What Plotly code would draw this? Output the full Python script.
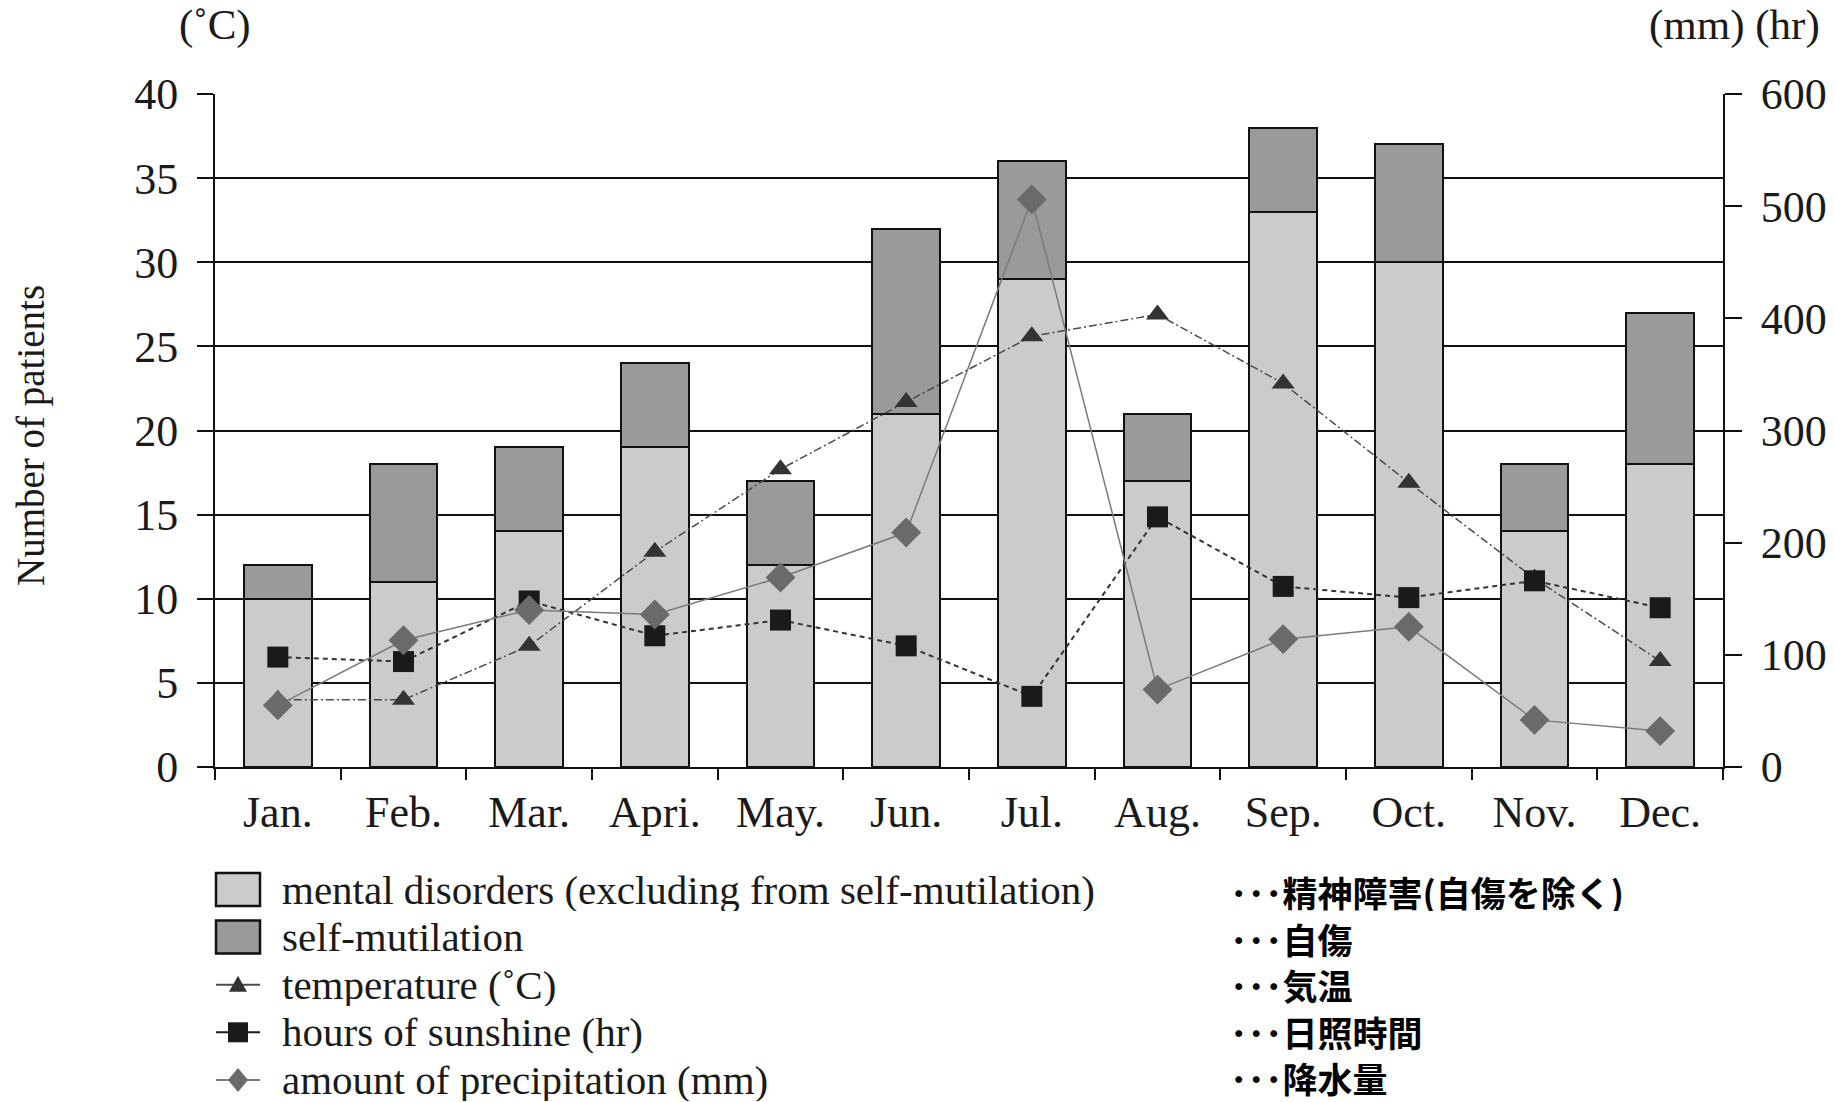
import plotly.graph_objects as go

# Monthly data
months = ["Jan.", "Feb.", "Mar.", "Apri.", "May.", "Jun.", "Jul.", "Aug.", "Sep.", "Oct.", "Nov.", "Dec."]
mental_disorders = [10, 11, 14, 19, 12, 21, 29, 17, 33, 30, 14, 18]
self_mutilation = [2, 7, 5, 5, 5, 11, 7, 4, 5, 7, 4, 9]
temperature_c = [4.0, 4.0, 7.2, 12.8, 17.7, 21.7, 25.6, 26.9, 22.8, 16.9, 11.2, 6.3]
sunshine_hr = [98, 94, 148, 117, 131, 108, 63, 223, 161, 151, 166, 142]
precipitation_mm = [55, 113, 140, 136, 169, 209, 506, 69, 114, 125, 42, 32]

legend_en = [
    "mental disorders (excluding from self-mutilation)",
    "self-mutilation",
    "temperature (˚C)",
    "hours of sunshine (hr)",
    "amount of precipitation (mm)",
]
legend_ja = [
    "･･･精神障害(自傷を除く)",
    "･･･自傷",
    "･･･気温",
    "･･･日照時間",
    "･･･降水量",
]

W, H = 1835, 1102
LEFT, RIGHT, TOP, BOTTOM = 215, 1723, 94, 767

SERIF = "Liberation Serif, Times New Roman, serif"
CJK = "Noto Sans CJK JP, sans-serif"
INK = "#111111"
TEXT = "#1a1a1a"
LIGHT = "#cbcbcb"
DARK = "#9a9a9a"


def fx(x):
    return (x - LEFT) / (RIGHT - LEFT)


def fy(y):
    return (BOTTOM - y) / (BOTTOM - TOP)


fig = go.Figure()

fig.add_bar(
    x=months, y=mental_disorders, name=legend_en[0],
    marker=dict(color=LIGHT, line=dict(color=INK, width=2)),
)
fig.add_bar(
    x=months, y=self_mutilation, name=legend_en[1],
    marker=dict(color=DARK, line=dict(color=INK, width=2)),
)
fig.add_scatter(
    x=months, y=temperature_c, name=legend_en[2], mode="lines+markers",
    line=dict(color="#4a4a4a", width=1.5, dash="8px,3px,2px,3px"),
    marker=dict(symbol="triangle-up", size=20, color="#333333"),
)
fig.add_scatter(
    x=months, y=sunshine_hr, name=legend_en[3], mode="lines+markers", yaxis="y2",
    line=dict(color="#333333", width=2, dash="5px,4px"),
    marker=dict(symbol="square", size=21, color="#1a1a1a"),
)
fig.add_scatter(
    x=months, y=precipitation_mm, name=legend_en[4], mode="lines+markers", yaxis="y2",
    line=dict(color="#7a7a7a", width=1.5),
    marker=dict(symbol="diamond", size=23, color="#6a6a6a"),
)

shapes = []
annotations = []

# Hand-built legend below the plot
row_y = [889.5 + 47.6 * i for i in range(5)]
ja_row_y = [891 + 46.5 * i for i in range(5)]
sym_l, sym_r = 216, 260
sym_c = (sym_l + sym_r) / 2
for i, fill in enumerate([LIGHT, DARK]):
    y = row_y[i]
    shapes.append(dict(
        type="rect", xref="paper", yref="paper",
        x0=fx(sym_l), x1=fx(sym_r), y0=fy(y + 16.5), y1=fy(y - 16.5),
        fillcolor=fill, line=dict(color=INK, width=2.5),
    ))

line_styles = [("#4a4a4a", "#333333"), ("#1a1a1a", "#1a1a1a"), ("#7a7a7a", "#6a6a6a")]
for k in range(3):
    y = row_y[2 + k]
    lc, mc = line_styles[k]
    shapes.append(dict(
        type="line", xref="paper", yref="paper",
        x0=fx(sym_l), x1=fx(sym_r), y0=fy(y), y1=fy(y),
        line=dict(color=lc, width=2),
    ))
    if k == 0:
        pts = [(sym_c - 9, y + 7), (sym_c + 9, y + 7), (sym_c, y - 9)]
    elif k == 1:
        pts = [(sym_c - 10, y - 10), (sym_c + 10, y - 10), (sym_c + 10, y + 10), (sym_c - 10, y + 10)]
    else:
        pts = [(sym_c, y - 12), (sym_c + 10, y), (sym_c, y + 12), (sym_c - 10, y)]
    path = "M" + " L".join(f"{fx(a):.5f},{fy(b):.5f}" for a, b in pts) + " Z"
    shapes.append(dict(
        type="path", xref="paper", yref="paper", path=path,
        fillcolor=mc, line=dict(color=mc, width=0),
    ))

for i in range(5):
    annotations.append(dict(
        x=fx(280), y=fy(row_y[i]), xref="paper", yref="paper",
        text=legend_en[i], showarrow=False, xanchor="left", yanchor="middle",
        height=42, valign="middle",
        font=dict(family=SERIF, size=41, color=TEXT),
    ))
    annotations.append(dict(
        x=fx(1228), y=fy(ja_row_y[i]), xref="paper", yref="paper",
        text=legend_ja[i], showarrow=False, xanchor="left", yanchor="middle",
        height=40, valign="middle",
        font=dict(family=CJK, size=35, color="#000000", weight="bold"),
    ))

# Axis unit labels and title
annotations.append(dict(
    x=fx(215), y=fy(25), xref="paper", yref="paper", text="(˚C)",
    showarrow=False, xanchor="center", yanchor="middle",
    font=dict(family=SERIF, size=43, color=TEXT),
))
annotations.append(dict(
    x=fx(1822), y=fy(25), xref="paper", yref="paper", text="(mm) (hr)",
    showarrow=False, xanchor="right", yanchor="middle",
    font=dict(family=SERIF, size=43, color=TEXT),
))
annotations.append(dict(
    x=fx(31), y=fy(436), xref="paper", yref="paper", text="Number of patients",
    showarrow=False, xanchor="center", yanchor="middle", textangle=-90,
    font=dict(family=SERIF, size=39, color=TEXT),
))

fig.update_layout(
    width=W, height=H, autosize=False,
    margin=dict(l=LEFT, r=W - RIGHT, t=TOP, b=H - BOTTOM, autoexpand=False),
    paper_bgcolor="white", plot_bgcolor="white",
    barmode="stack", bargap=0.46,
    showlegend=False,
    shapes=shapes, annotations=annotations,
    xaxis=dict(
        type="category", range=[-0.5, len(months) - 0.5],
        showline=True, linecolor=INK, linewidth=2,
        ticks="outside", tickson="boundaries", ticklen=11, tickwidth=2, tickcolor=INK,
        showgrid=False, zeroline=False,
        tickfont=dict(family=SERIF, size=44, color=TEXT), ticklabelstandoff=5,
    ),
    yaxis=dict(
        range=[0, 40], tick0=0, dtick=5,
        showline=True, linecolor=INK, linewidth=2,
        ticks="outside", ticklen=16, tickwidth=2, tickcolor=INK,
        showgrid=True, gridcolor=INK, gridwidth=2, zeroline=False,
        tickfont=dict(family=SERIF, size=44, color=TEXT), ticklabelstandoff=10,
    ),
    yaxis2=dict(
        overlaying="y", side="right", range=[0, 600], tick0=0, dtick=100,
        showline=True, linecolor=INK, linewidth=2,
        ticks="outside", ticklen=17, tickwidth=2, tickcolor=INK,
        showgrid=False, zeroline=False,
        tickfont=dict(family=SERIF, size=44, color=TEXT), ticklabelstandoff=10,
    ),
)

fig.write_html("out.html")
